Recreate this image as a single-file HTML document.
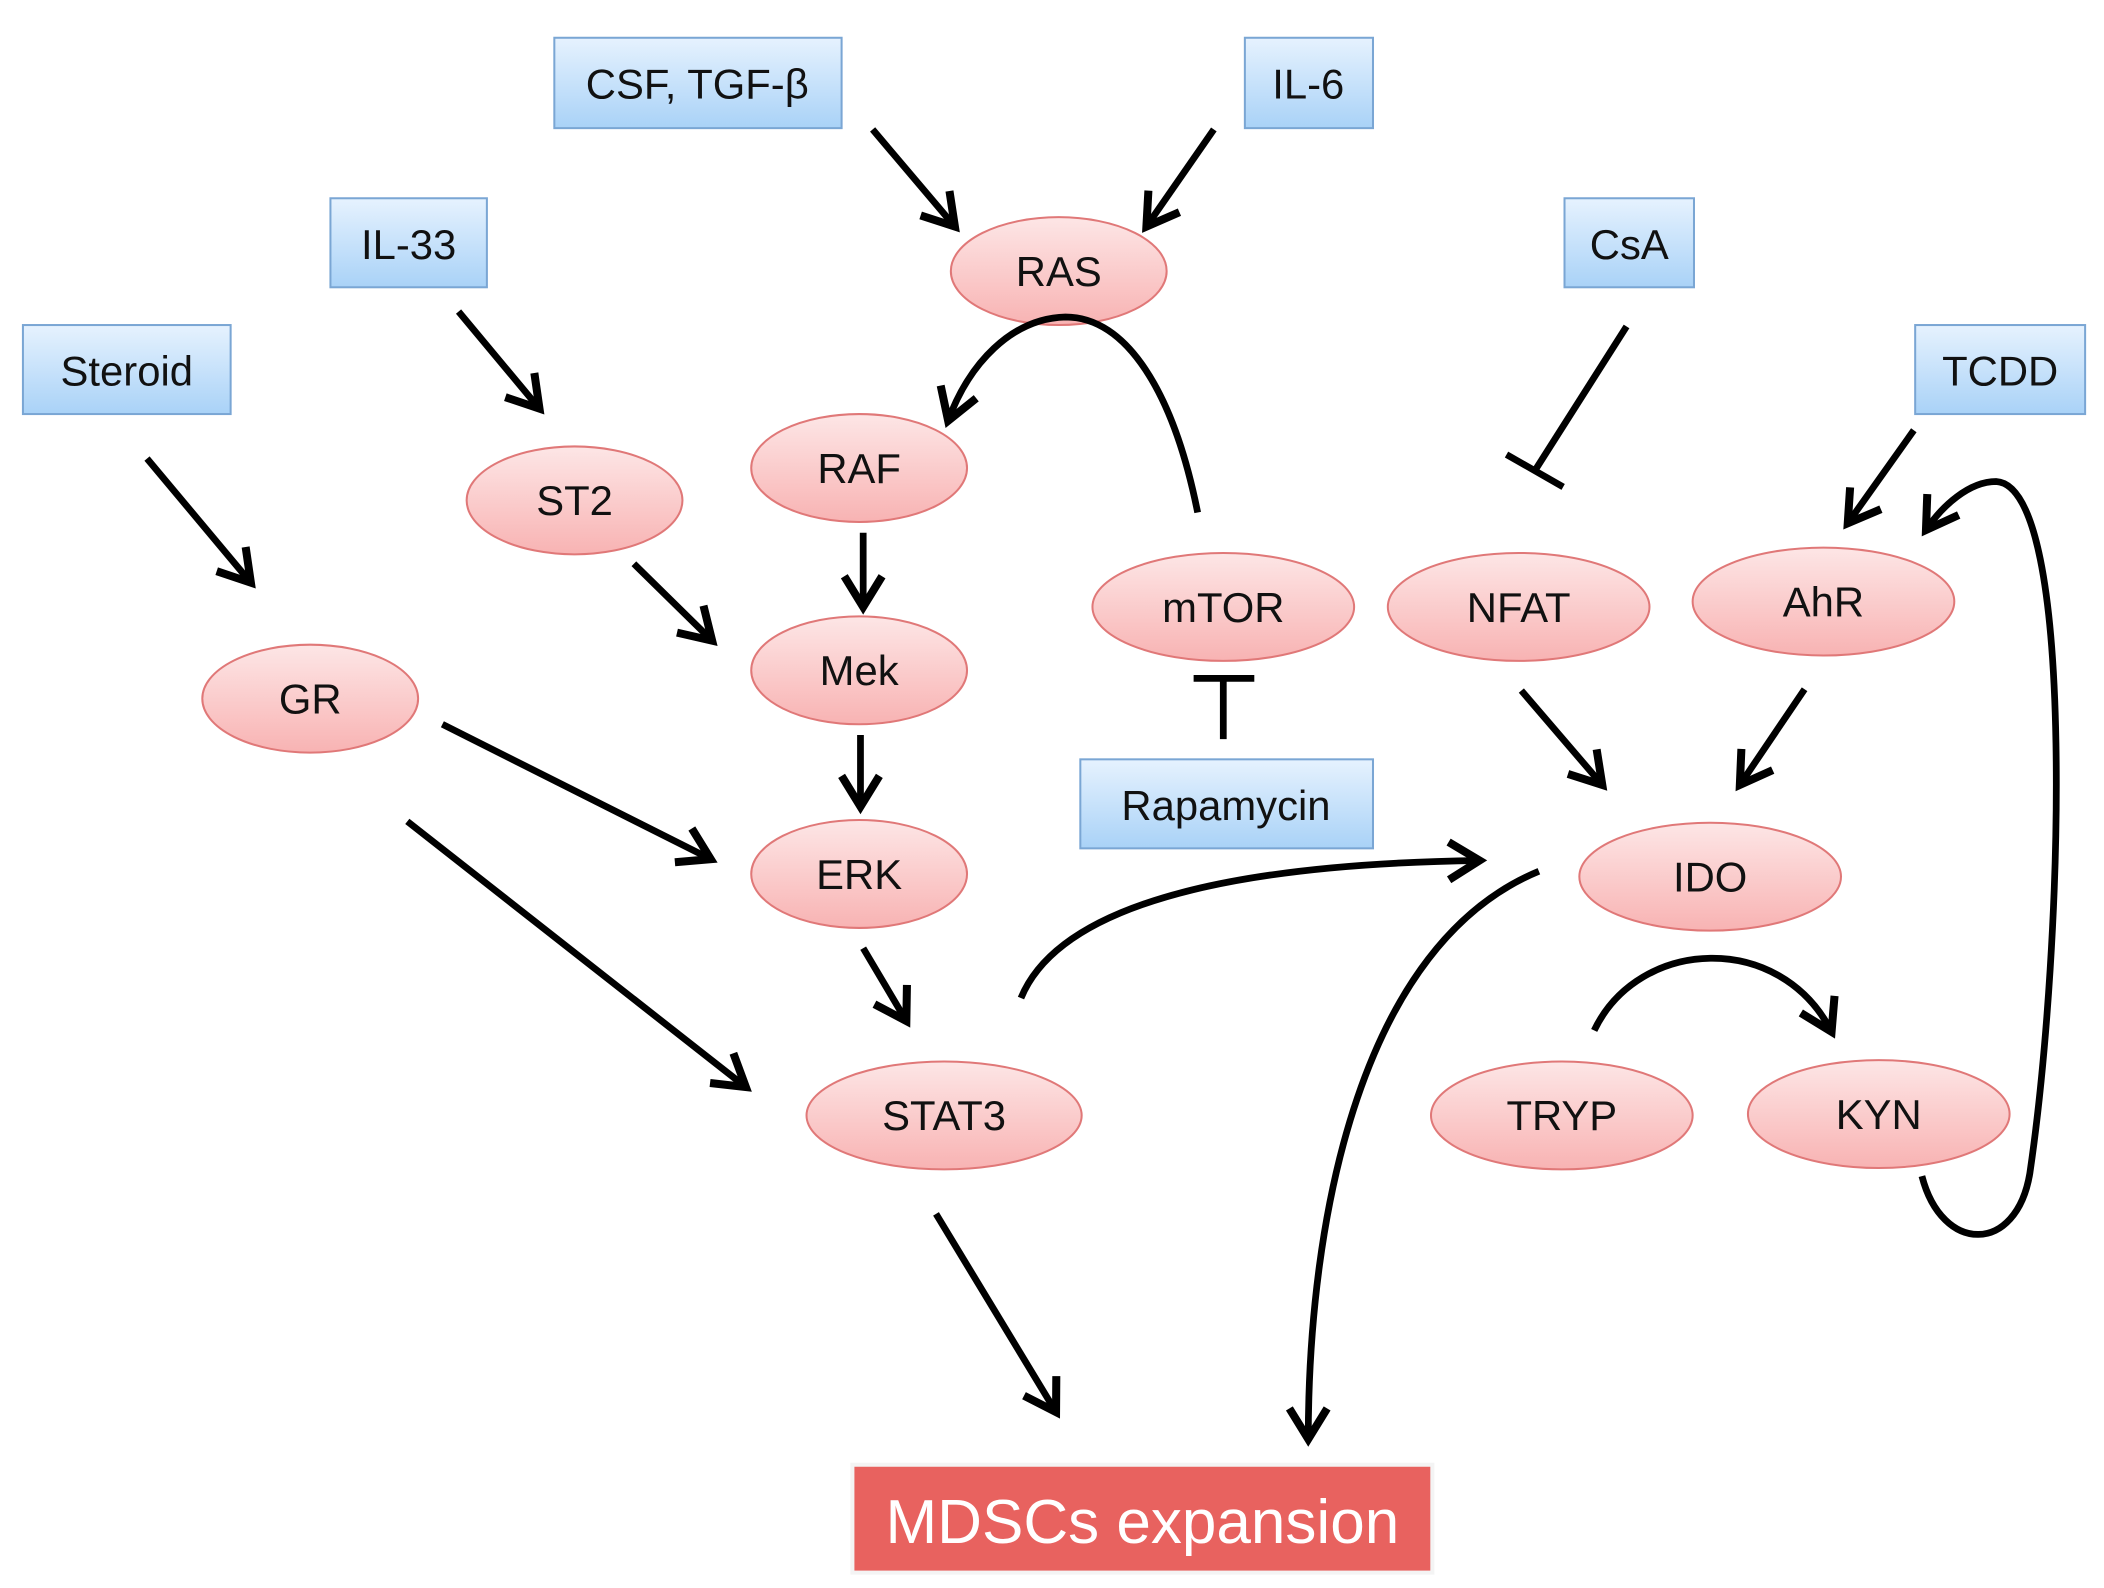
<!DOCTYPE html>
<html><head><meta charset="utf-8"><style>
html,body{margin:0;padding:0;background:#fff;}
svg{display:block;}
text{font-family:"Liberation Sans",sans-serif;fill:#111;}
</style></head><body>
<svg width="2104" height="1588" viewBox="0 0 1560 1177.4" preserveAspectRatio="none" xmlns="http://www.w3.org/2000/svg">
<defs>
<linearGradient id="bg" x1="0" y1="0" x2="0" y2="1"><stop offset="0" stop-color="#e6f2fe"/><stop offset="1" stop-color="#a9d2f7"/></linearGradient>
<linearGradient id="pg" x1="0" y1="0" x2="0" y2="1"><stop offset="0" stop-color="#fde6e6"/><stop offset="1" stop-color="#f8b3b3"/></linearGradient>
<marker id="a" viewBox="0 0 20 20" refX="16" refY="10" markerWidth="7" markerHeight="7" markerUnits="strokeWidth" orient="auto">
<polyline points="3,2 16,10 3,18" fill="none" stroke="#000" stroke-width="3.4"/>
</marker>
</defs>
<g stroke="#7aa6d4" stroke-width="1.5" fill="url(#bg)">
<rect x="411" y="28" width="213" height="67"/>
<rect x="923" y="28" width="95" height="67"/>
<rect x="245" y="147" width="116" height="66"/>
<rect x="17" y="241" width="154" height="66"/>
<rect x="1160" y="147" width="96" height="66"/>
<rect x="1420" y="241" width="126" height="66"/>
<rect x="801" y="563" width="217" height="66"/>
</g>
<g font-size="31" text-anchor="middle">
<text x="517" y="73">CSF, TGF-β</text>
<text x="970" y="73">IL-6</text>
<text x="303" y="192">IL-33</text>
<text x="94" y="286">Steroid</text>
<text x="1208" y="192">CsA</text>
<text x="1483" y="286">TCDD</text>
<text x="909" y="608">Rapamycin</text>
</g>
<g stroke="#e07878" stroke-width="1.5" fill="url(#pg)">
<ellipse cx="785" cy="201" rx="80" ry="40"/>
<ellipse cx="637" cy="347" rx="80" ry="40"/>
<ellipse cx="426" cy="371" rx="80" ry="40"/>
<ellipse cx="637" cy="497" rx="80" ry="40"/>
<ellipse cx="230" cy="518" rx="80" ry="40"/>
<ellipse cx="637" cy="648" rx="80" ry="40"/>
<ellipse cx="907" cy="450" rx="97" ry="40"/>
<ellipse cx="1126" cy="450" rx="97" ry="40"/>
<ellipse cx="1352" cy="446" rx="97" ry="40"/>
<ellipse cx="1268" cy="650" rx="97" ry="40"/>
<ellipse cx="700" cy="827" rx="102" ry="40"/>
<ellipse cx="1158" cy="827" rx="97" ry="40"/>
<ellipse cx="1393" cy="826" rx="97" ry="40"/>
</g>
<g font-size="31" text-anchor="middle">
<text x="785" y="212">RAS</text>
<text x="637" y="358">RAF</text>
<text x="426" y="382">ST2</text>
<text x="637" y="508">Mek</text>
<text x="230" y="529">GR</text>
<text x="637" y="659">ERK</text>
<text x="907" y="461">mTOR</text>
<text x="1126" y="461">NFAT</text>
<text x="1352" y="457">AhR</text>
<text x="1268" y="661">IDO</text>
<text x="700" y="838">STAT3</text>
<text x="1158" y="838">TRYP</text>
<text x="1393" y="837">KYN</text>
</g>
<rect x="632" y="1086" width="430" height="80" fill="#e8625f" stroke="#f4f4f4" stroke-width="3"/>
<text x="847" y="1144" font-size="46" text-anchor="middle" style="fill:#fff">MDSCs expansion</text>
<g stroke="#000" stroke-width="5" fill="none" marker-end="url(#a)" stroke-linecap="butt">
<line x1="647" y1="96" x2="708" y2="168"/>
<line x1="900" y1="96" x2="850" y2="168"/>
<line x1="340" y1="231" x2="400" y2="303"/>
<line x1="109" y1="340" x2="186" y2="432"/>
<line x1="470" y1="418" x2="528" y2="475"/>
<line x1="640" y1="395" x2="640" y2="450"/>
<line x1="638" y1="545" x2="638" y2="598"/>
<line x1="328" y1="537" x2="527" y2="637"/>
<line x1="302" y1="609" x2="553" y2="806"/>
<line x1="640" y1="703" x2="672" y2="757"/>
<line x1="694" y1="900" x2="783" y2="1047"/>
<line x1="1419" y1="319" x2="1370" y2="388"/>
<line x1="1128" y1="512" x2="1188" y2="582"/>
<line x1="1338" y1="511" x2="1290" y2="582"/>
<path d="M888,380 C870,290 835,235 790,235 C750,236 718,270 703,312"/>
<path d="M757,740 C790,660 950,640 1097,638"/>
<path d="M1141,646 C1010,700 970,900 970,1067"/>
<path d="M1182,764 C1215,695 1320,690 1358,765"/>
<path d="M1425,872 C1440,930 1495,930 1505,870 C1530,700 1540,360 1480,357 C1460,357 1440,375 1428,393"/>
</g>
<g stroke="#000" stroke-width="5" fill="none">
<line x1="907" y1="548" x2="907" y2="503"/>
<line x1="885" y1="503" x2="930" y2="503"/>
<line x1="1206" y1="242" x2="1138" y2="349"/>
<line x1="1117" y1="337" x2="1159" y2="361"/>
</g>
</svg>
</body></html>
